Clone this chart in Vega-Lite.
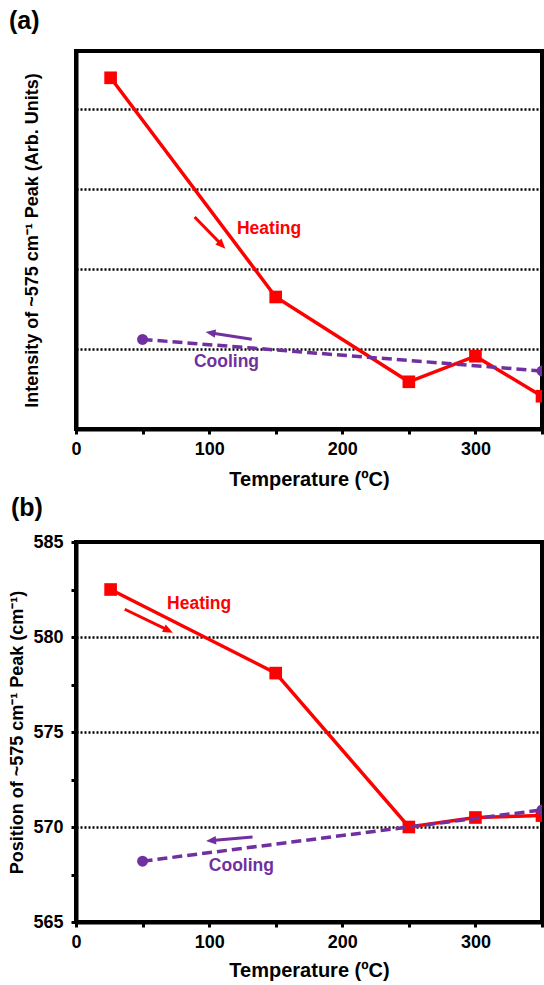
{
  "$schema": "https://vega.github.io/schema/vega-lite/v6.json",
  "background": "white",
  "padding": {"left": 6, "top": 7, "right": 0, "bottom": 0},
  "spacing": 3,
  "config": {
    "font": "Liberation Sans",
    "view": {"stroke": "#000000", "strokeWidth": 4, "strokeOpacity": 1},
    "axis": {
      "domain": true, "domainColor": "#000000", "domainWidth": 4,
      "tickColor": "#000000", "tickWidth": 3, "tickSize": 5, "tickOpacity": 1,
      "labelColor": "#000000", "labelFont": "Liberation Sans", "labelFontSize": 18, "labelFontWeight": "bold",
      "titleColor": "#000000", "titleFont": "Liberation Sans", "titleFontWeight": "bold", "titleFontSize": 18,
      "gridColor": "#000000", "gridDash": [2, 2], "gridWidth": 2.5, "gridOpacity": 1
    },
    "title": {"fontSize": 25, "fontWeight": "bold", "anchor": "start", "frame": "bounds", "color": "#000000", "font": "Liberation Sans"}
  },
  "datasets": {
    "series": [
      {"panel": "a", "process": "Heating", "temp": 26, "value": 4.39},
      {"panel": "a", "process": "Heating", "temp": 150, "value": 1.65},
      {"panel": "a", "process": "Heating", "temp": 250, "value": 0.59},
      {"panel": "a", "process": "Heating", "temp": 300, "value": 0.91},
      {"panel": "a", "process": "Heating", "temp": 350, "value": 0.41},
      {"panel": "a", "process": "Cooling", "temp": 50, "value": 1.12},
      {"panel": "a", "process": "Cooling", "temp": 350, "value": 0.725},
      {"panel": "b", "process": "Heating", "temp": 26, "value": 582.5},
      {"panel": "b", "process": "Heating", "temp": 150, "value": 578.1},
      {"panel": "b", "process": "Heating", "temp": 250, "value": 570.0},
      {"panel": "b", "process": "Heating", "temp": 300, "value": 570.5},
      {"panel": "b", "process": "Heating", "temp": 350, "value": 570.6},
      {"panel": "b", "process": "Cooling", "temp": 50, "value": 568.2},
      {"panel": "b", "process": "Cooling", "temp": 350, "value": 570.9}
    ],
    "notes": [
      {"panel": "a", "process": "Heating", "label": "Heating", "tx": 145.0, "ty": 2.496},
      {"panel": "a", "process": "Cooling", "label": "Cooling", "tx": 113.0, "ty": 0.8375},
      {"panel": "b", "process": "Heating", "label": "Heating", "tx": 92.5, "ty": 581.72},
      {"panel": "b", "process": "Cooling", "label": "Cooling", "tx": 124.2, "ty": 567.95}
    ],
    "arrows": [
      {"panel": "a", "process": "Heating", "x0": 89.1, "y0": 2.65, "x1": 109.1, "y1": 2.308, "xt": 112.2, "yt": 2.254},
      {"panel": "a", "process": "Cooling", "x0": 132.0, "y0": 1.121, "x1": 101.7, "y1": 1.201, "xt": 97.3, "yt": 1.2125},
      {"panel": "b", "process": "Heating", "x0": 36.6, "y0": 581.46, "x1": 68.7, "y1": 580.38, "xt": 72.8, "yt": 580.23},
      {"panel": "b", "process": "Cooling", "x0": 132.6, "y0": 569.47, "x1": 102.2, "y1": 569.29, "xt": 97.7, "yt": 569.26}
    ]
  },
  "vconcat": [
    {
      "width": 466,
      "height": 378,
      "title": {"text": "(a)", "dx": -14, "offset": 17},
      "data": {"name": "series"},
      "encoding": {
        "x": {
          "field": "temp", "type": "quantitative", "title": "Temperature (ºC)",
          "scale": {"domain": [0, 350], "nice": false, "zero": false},
          "axis": {
            "titleFontSize": 20, "titlePadding": 11,
            "values": [0, 50, 100, 150, 200, 250, 300, 350],
            "labelExpr": "datum.value % 100 === 0 ? datum.label : ''",
            "labelFlush": false, "labelOverlap": false, "labelPadding": 6, "grid": false
          }
        },
        "y": {
          "field": "value", "type": "quantitative", "title": "Intensity of ~575 cm⁻¹ Peak (Arb. Units)",
          "scale": {"domain": [0, 4.725], "nice": false, "zero": false},
          "axis": {
            "values": [1, 2, 3, 4], "labels": false, "ticks": false, "grid": true,
            "titlePadding": 35
          }
        }
      },
      "layer": [
        {"transform": [{"filter": "datum.panel === 'a' && datum.process === 'Heating'"}],
         "mark": {"type": "line", "color": "#ff0000", "strokeWidth": 3.5, "clip": true}},
        {"transform": [{"filter": "datum.panel === 'a' && datum.process === 'Heating'"}],
         "mark": {"type": "point", "shape": "square", "filled": true, "opacity": 1, "color": "#ff0000", "size": 160, "clip": true}},
        {"transform": [{"filter": "datum.panel === 'a' && datum.process === 'Cooling'"}],
         "mark": {"type": "line", "color": "#7030a0", "strokeWidth": 3.5, "strokeDash": [10, 5], "clip": true}},
        {"transform": [{"filter": "datum.panel === 'a' && datum.process === 'Cooling'"}],
         "mark": {"type": "point", "shape": "circle", "filled": true, "opacity": 1, "color": "#7030a0", "size": 120, "clip": true}},
        {"data": {"name": "notes"},
         "transform": [{"filter": "datum.panel === 'a' && datum.process === 'Heating'"}],
         "mark": {"type": "text", "color": "#ff0000", "fontSize": 17.5, "fontWeight": "bold", "align": "center", "baseline": "middle"},
         "encoding": {"x": {"field": "tx", "type": "quantitative", "title": "Temperature (ºC)"}, "y": {"field": "ty", "type": "quantitative", "title": "Intensity of ~575 cm⁻¹ Peak (Arb. Units)"}, "text": {"field": "label"}}},
        {"data": {"name": "notes"},
         "transform": [{"filter": "datum.panel === 'a' && datum.process === 'Cooling'"}],
         "mark": {"type": "text", "color": "#7030a0", "fontSize": 17.5, "fontWeight": "bold", "align": "center", "baseline": "middle"},
         "encoding": {"x": {"field": "tx", "type": "quantitative", "title": "Temperature (ºC)"}, "y": {"field": "ty", "type": "quantitative", "title": "Intensity of ~575 cm⁻¹ Peak (Arb. Units)"}, "text": {"field": "label"}}},
        {"data": {"name": "arrows"},
         "transform": [{"filter": "datum.panel === 'a' && datum.process === 'Heating'"}],
         "mark": {"type": "rule", "color": "#ff0000", "strokeWidth": 3},
         "encoding": {"x": {"field": "x0", "type": "quantitative", "title": "Temperature (ºC)"}, "y": {"field": "y0", "type": "quantitative", "title": "Intensity of ~575 cm⁻¹ Peak (Arb. Units)"}, "x2": {"field": "x1"}, "y2": {"field": "y1"}}},
        {"data": {"name": "arrows"},
         "transform": [{"filter": "datum.panel === 'a' && datum.process === 'Heating'"}],
         "mark": {"type": "point", "shape": "M0,0L-1,-0.42L-1,0.42Z", "filled": true, "opacity": 1, "color": "#ff0000", "size": 400, "angle": 45.6},
         "encoding": {"x": {"field": "xt", "type": "quantitative", "title": "Temperature (ºC)"}, "y": {"field": "yt", "type": "quantitative", "title": "Intensity of ~575 cm⁻¹ Peak (Arb. Units)"}}},
        {"data": {"name": "arrows"},
         "transform": [{"filter": "datum.panel === 'a' && datum.process === 'Cooling'"}],
         "mark": {"type": "rule", "color": "#7030a0", "strokeWidth": 3},
         "encoding": {"x": {"field": "x0", "type": "quantitative", "title": "Temperature (ºC)"}, "y": {"field": "y0", "type": "quantitative", "title": "Intensity of ~575 cm⁻¹ Peak (Arb. Units)"}, "x2": {"field": "x1"}, "y2": {"field": "y1"}}},
        {"data": {"name": "arrows"},
         "transform": [{"filter": "datum.panel === 'a' && datum.process === 'Cooling'"}],
         "mark": {"type": "point", "shape": "M0,0L-1,-0.42L-1,0.42Z", "filled": true, "opacity": 1, "color": "#7030a0", "size": 400, "angle": 188.9},
         "encoding": {"x": {"field": "xt", "type": "quantitative", "title": "Temperature (ºC)"}, "y": {"field": "yt", "type": "quantitative", "title": "Intensity of ~575 cm⁻¹ Peak (Arb. Units)"}}}
      ]
    },
    {
      "width": 466,
      "height": 380,
      "title": {"text": "(b)", "dx": 2, "offset": 12},
      "data": {"name": "series"},
      "encoding": {
        "x": {
          "field": "temp", "type": "quantitative", "title": "Temperature (ºC)",
          "scale": {"domain": [0, 350], "nice": false, "zero": false},
          "axis": {
            "titleFontSize": 20, "titlePadding": 9,
            "values": [0, 50, 100, 150, 200, 250, 300, 350],
            "labelExpr": "datum.value % 100 === 0 ? datum.label : ''",
            "labelFlush": false, "labelOverlap": false, "labelPadding": 6, "grid": false
          }
        },
        "y": {
          "field": "value", "type": "quantitative", "title": "Position of  ~575 cm⁻¹ Peak (cm⁻¹)",
          "scale": {"domain": [565, 585], "nice": false, "zero": false},
          "axis": {
            "values": [565, 567.5, 570, 572.5, 575, 577.5, 580, 582.5, 585],
            "labelExpr": "datum.value % 5 === 0 ? datum.label : ''",
            "labelOverlap": false, "labelFlush": false, "labelPadding": 8,
            "grid": true,
            "gridOpacity": {"condition": {"test": "datum.value % 5 === 0 && datum.value > 566 && datum.value < 584", "value": 1}, "value": 0},
            "titlePadding": 6
          }
        }
      },
      "layer": [
        {"transform": [{"filter": "datum.panel === 'b' && datum.process === 'Heating'"}],
         "mark": {"type": "line", "color": "#ff0000", "strokeWidth": 3.5, "clip": true}},
        {"transform": [{"filter": "datum.panel === 'b' && datum.process === 'Heating'"}],
         "mark": {"type": "point", "shape": "square", "filled": true, "opacity": 1, "color": "#ff0000", "size": 160, "clip": true}},
        {"transform": [{"filter": "datum.panel === 'b' && datum.process === 'Cooling'"}],
         "mark": {"type": "line", "color": "#7030a0", "strokeWidth": 3.5, "strokeDash": [10, 5], "clip": true}},
        {"transform": [{"filter": "datum.panel === 'b' && datum.process === 'Cooling'"}],
         "mark": {"type": "point", "shape": "circle", "filled": true, "opacity": 1, "color": "#7030a0", "size": 120, "clip": true}},
        {"data": {"name": "notes"},
         "transform": [{"filter": "datum.panel === 'b' && datum.process === 'Heating'"}],
         "mark": {"type": "text", "color": "#ff0000", "fontSize": 17.5, "fontWeight": "bold", "align": "center", "baseline": "middle"},
         "encoding": {"x": {"field": "tx", "type": "quantitative", "title": "Temperature (ºC)"}, "y": {"field": "ty", "type": "quantitative", "title": "Position of  ~575 cm⁻¹ Peak (cm⁻¹)"}, "text": {"field": "label"}}},
        {"data": {"name": "notes"},
         "transform": [{"filter": "datum.panel === 'b' && datum.process === 'Cooling'"}],
         "mark": {"type": "text", "color": "#7030a0", "fontSize": 17.5, "fontWeight": "bold", "align": "center", "baseline": "middle"},
         "encoding": {"x": {"field": "tx", "type": "quantitative", "title": "Temperature (ºC)"}, "y": {"field": "ty", "type": "quantitative", "title": "Position of  ~575 cm⁻¹ Peak (cm⁻¹)"}, "text": {"field": "label"}}},
        {"data": {"name": "arrows"},
         "transform": [{"filter": "datum.panel === 'b' && datum.process === 'Heating'"}],
         "mark": {"type": "rule", "color": "#ff0000", "strokeWidth": 3},
         "encoding": {"x": {"field": "x0", "type": "quantitative", "title": "Temperature (ºC)"}, "y": {"field": "y0", "type": "quantitative", "title": "Position of  ~575 cm⁻¹ Peak (cm⁻¹)"}, "x2": {"field": "x1"}, "y2": {"field": "y1"}}},
        {"data": {"name": "arrows"},
         "transform": [{"filter": "datum.panel === 'b' && datum.process === 'Heating'"}],
         "mark": {"type": "point", "shape": "M0,0L-1,-0.42L-1,0.42Z", "filled": true, "opacity": 1, "color": "#ff0000", "size": 400, "angle": 25.7},
         "encoding": {"x": {"field": "xt", "type": "quantitative", "title": "Temperature (ºC)"}, "y": {"field": "yt", "type": "quantitative", "title": "Position of  ~575 cm⁻¹ Peak (cm⁻¹)"}}},
        {"data": {"name": "arrows"},
         "transform": [{"filter": "datum.panel === 'b' && datum.process === 'Cooling'"}],
         "mark": {"type": "rule", "color": "#7030a0", "strokeWidth": 3},
         "encoding": {"x": {"field": "x0", "type": "quantitative", "title": "Temperature (ºC)"}, "y": {"field": "y0", "type": "quantitative", "title": "Position of  ~575 cm⁻¹ Peak (cm⁻¹)"}, "x2": {"field": "x1"}, "y2": {"field": "y1"}}},
        {"data": {"name": "arrows"},
         "transform": [{"filter": "datum.panel === 'b' && datum.process === 'Cooling'"}],
         "mark": {"type": "point", "shape": "M0,0L-1,-0.42L-1,0.42Z", "filled": true, "opacity": 1, "color": "#7030a0", "size": 400, "angle": 175.1},
         "encoding": {"x": {"field": "xt", "type": "quantitative", "title": "Temperature (ºC)"}, "y": {"field": "yt", "type": "quantitative", "title": "Position of  ~575 cm⁻¹ Peak (cm⁻¹)"}}}
      ]
    }
  ]
}
